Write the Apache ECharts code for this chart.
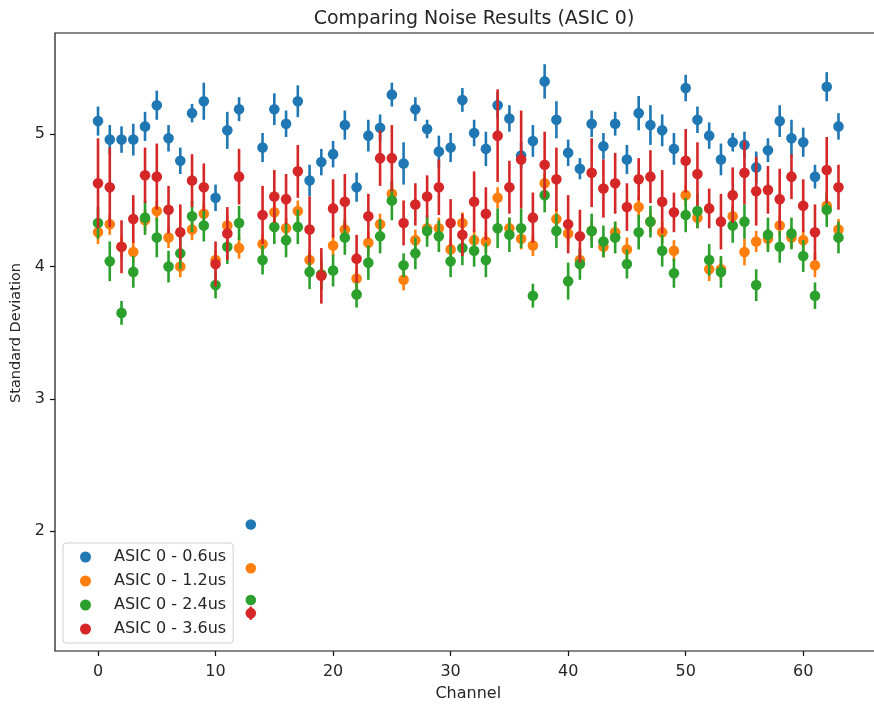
<!DOCTYPE html>
<html>
<head>
<meta charset="utf-8">
<script src="https://cdn.jsdelivr.net/npm/echarts@6/dist/echarts.min.js"></script>
<style>
  html, body { margin: 0; padding: 0; background: #fff; }
  #chart { width: 874px; height: 706px; }
</style>
</head>
<body>
<div id="chart"></div>
<script>
// Noise standard deviation per channel for four shaping times (ASIC 0)
const channels = Array.from({ length: 64 }, (_, i) => i);

const seriesNames = ['ASIC 0 - 0.6us', 'ASIC 0 - 1.2us', 'ASIC 0 - 2.4us', 'ASIC 0 - 3.6us'];

const std06 = [5.10, 4.96, 4.96, 4.96, 5.06, 5.22, 4.97, 4.80, 5.16, 5.25,
  4.52, 5.03, 5.19, 2.05, 4.90, 5.19, 5.08, 5.25, 4.65, 4.79,
  4.85, 5.07, 4.60, 4.99, 5.05, 5.30, 4.78, 5.19, 5.04, 4.87,
  4.90, 5.26, 5.01, 4.89, 5.22, 5.12, 4.84, 4.95, 5.40, 5.11,
  4.86, 4.74, 5.08, 4.91, 5.08, 4.81, 5.16, 5.07, 5.03, 4.89,
  5.35, 5.11, 4.99, 4.81, 4.94, 4.92, 4.75, 4.88, 5.10, 4.97,
  4.94, 4.68, 5.36, 5.06];
const err06 = [0.11, 0.11, 0.10, 0.12, 0.11, 0.11, 0.10, 0.10, 0.07, 0.14,
  0.10, 0.14, 0.09, 0.01, 0.11, 0.12, 0.10, 0.12, 0.12, 0.10,
  0.10, 0.11, 0.11, 0.12, 0.10, 0.09, 0.16, 0.09, 0.07, 0.12,
  0.11, 0.09, 0.10, 0.13, 0.10, 0.10, 0.10, 0.12, 0.13, 0.14,
  0.10, 0.08, 0.10, 0.10, 0.09, 0.11, 0.13, 0.15, 0.12, 0.12,
  0.10, 0.10, 0.10, 0.12, 0.07, 0.10, 0.12, 0.09, 0.12, 0.14,
  0.11, 0.09, 0.11, 0.10];

const std12 = [4.26, 4.32, 4.15, 4.11, 4.35, 4.42, 4.22, 4.00, 4.28, 4.40,
  4.05, 4.31, 4.14, 1.72, 4.17, 4.41, 4.29, 4.42, 4.05, 3.94,
  4.16, 4.28, 3.91, 4.18, 4.32, 4.55, 3.90, 4.20, 4.29, 4.29,
  4.13, 4.33, 4.20, 4.19, 4.52, 4.29, 4.21, 4.16, 4.63, 4.36,
  4.25, 4.05, 4.27, 4.15, 4.26, 4.13, 4.45, 4.34, 4.26, 4.12,
  4.54, 4.37, 3.98, 3.98, 4.38, 4.11, 4.19, 4.21, 4.31, 4.22,
  4.20, 4.01, 4.46, 4.28];
const err12 = [0.09, 0.08, 0.08, 0.08, 0.08, 0.08, 0.08, 0.08, 0.08, 0.08,
  0.08, 0.08, 0.08, 0.01, 0.08, 0.08, 0.08, 0.08, 0.08, 0.08,
  0.08, 0.08, 0.08, 0.08, 0.08, 0.08, 0.08, 0.08, 0.08, 0.08,
  0.08, 0.08, 0.08, 0.08, 0.08, 0.08, 0.08, 0.08, 0.08, 0.08,
  0.08, 0.08, 0.08, 0.08, 0.08, 0.09, 0.08, 0.08, 0.08, 0.08,
  0.08, 0.08, 0.09, 0.08, 0.08, 0.10, 0.08, 0.08, 0.08, 0.08,
  0.08, 0.09, 0.08, 0.08];

const std24 = [4.33, 4.04, 3.65, 3.96, 4.37, 4.22, 4.00, 4.10, 4.38, 4.31,
  3.86, 4.15, 4.33, 1.48, 4.05, 4.30, 4.20, 4.30, 3.96, 3.94,
  3.97, 4.22, 3.79, 4.03, 4.23, 4.50, 4.01, 4.10, 4.27, 4.23,
  4.04, 4.14, 4.12, 4.05, 4.29, 4.24, 4.29, 3.78, 4.54, 4.27,
  3.89, 4.02, 4.27, 4.19, 4.22, 4.02, 4.26, 4.34, 4.12, 3.95,
  4.39, 4.42, 4.05, 3.96, 4.31, 4.34, 3.86, 4.24, 4.15, 4.25,
  4.08, 3.78, 4.43, 4.22];
const err24 = [0.12, 0.15, 0.09, 0.12, 0.13, 0.15, 0.12, 0.12, 0.12, 0.12,
  0.10, 0.13, 0.13, 0.01, 0.11, 0.13, 0.13, 0.13, 0.13, 0.12,
  0.12, 0.13, 0.10, 0.13, 0.13, 0.15, 0.09, 0.12, 0.12, 0.12,
  0.12, 0.13, 0.12, 0.13, 0.15, 0.13, 0.15, 0.09, 0.13, 0.13,
  0.14, 0.12, 0.13, 0.12, 0.12, 0.11, 0.13, 0.12, 0.12, 0.11,
  0.13, 0.13, 0.12, 0.12, 0.13, 0.13, 0.12, 0.13, 0.12, 0.12,
  0.12, 0.10, 0.13, 0.12];

const std36 = [4.63, 4.60, 4.15, 4.36, 4.69, 4.68, 4.43, 4.26, 4.65, 4.60,
  4.02, 4.25, 4.68, 1.38, 4.39, 4.53, 4.51, 4.72, 4.28, 3.93,
  4.44, 4.49, 4.06, 4.38, 4.82, 4.82, 4.33, 4.47, 4.53, 4.60,
  4.33, 4.24, 4.49, 4.40, 4.99, 4.60, 4.81, 4.37, 4.77, 4.66,
  4.32, 4.23, 4.71, 4.59, 4.63, 4.45, 4.66, 4.68, 4.49, 4.41,
  4.80, 4.70, 4.44, 4.34, 4.54, 4.71, 4.57, 4.58, 4.51, 4.68,
  4.46, 4.26, 4.73, 4.60];
const err36 = [0.34, 0.30, 0.20, 0.18, 0.21, 0.25, 0.18, 0.21, 0.20, 0.18,
  0.17, 0.20, 0.21, 0.05, 0.22, 0.20, 0.19, 0.20, 0.25, 0.21,
  0.22, 0.21, 0.18, 0.17, 0.21, 0.25, 0.17, 0.16, 0.16, 0.21,
  0.18, 0.16, 0.23, 0.20, 0.35, 0.20, 0.37, 0.19, 0.25, 0.24,
  0.22, 0.20, 0.26, 0.22, 0.23, 0.18, 0.16, 0.20, 0.24, 0.15,
  0.24, 0.24, 0.15, 0.21, 0.21, 0.24, 0.26, 0.18, 0.23, 0.17,
  0.20, 0.21, 0.25, 0.17];

const yTicks = [2, 3, 4, 5];
const xTicks = [0, 10, 20, 30, 40, 50, 60];

const colors = ['#1f77b4', '#ff7f0e', '#2ca02c', '#d62728'];
const values = [std06, std12, std24, std36];
const errors = [err06, err12, err24, err36];

const FONT = '"DejaVu Sans", "Liberation Sans", sans-serif';
const TEXT = '#262626';

// One custom series per shaping time: vertical error bar with a round marker on top
function makeSeries(idx) {
  const color = colors[idx];
  return {
    name: seriesNames[idx],
    type: 'custom',
    color: color,
    itemStyle: { color: color },
    encode: { x: 0, y: 1 },
    data: channels.map((c, i) => [c, values[idx][i], errors[idx][i]]),
    renderItem: function (params, api) {
      const x = api.value(0), y = api.value(1), e = api.value(2);
      const hi = api.coord([x, y + e]);
      const lo = api.coord([x, y - e]);
      const c = api.coord([x, y]);
      return {
        type: 'group',
        children: [
          { type: 'line', shape: { x1: hi[0], y1: hi[1], x2: lo[0], y2: lo[1] },
            style: { stroke: color, lineWidth: 2.6 } },
          { type: 'circle', shape: { cx: c[0], cy: c[1], r: 5.3 },
            style: { fill: color } }
        ]
      };
    }
  };
}

const chart = echarts.init(document.getElementById('chart'), null, { renderer: 'canvas' });
chart.setOption({
  animation: false,
  backgroundColor: '#ffffff',
  textStyle: { fontFamily: FONT },
  title: {
    text: 'Comparing Noise Results (ASIC 0)',
    left: 469,
    textAlign: 'center',
    top: 5,
    textStyle: { fontFamily: FONT, fontSize: 19, fontWeight: 'normal', color: TEXT }
  },
  grid: {
    left: 55, top: 33, width: 826.5, height: 618,
    outerBoundsMode: 'none',
    containLabel: false,
    show: true, borderColor: '#111', borderWidth: 1.2, backgroundColor: 'transparent'
  },
  legend: {
    orient: 'vertical',
    left: 63, top: 543,
    padding: [5, 7, 5, 17],
    itemGap: 6,
    itemWidth: 11, itemHeight: 11,
    backgroundColor: '#fff',
    borderColor: '#d0d0d0', borderWidth: 1, borderRadius: 3,
    textStyle: { fontFamily: FONT, fontSize: 16, color: TEXT, lineHeight: 18, padding: [0, 0, 0, 18] },
    data: seriesNames.map(n => ({ name: n, icon: 'circle' }))
  },
  xAxis: {
    type: 'value',
    min: -3.66, max: 66.66,
    name: 'Channel',
    nameLocation: 'middle',
    nameGap: 35,
    nameTextStyle: { fontFamily: FONT, fontSize: 16, color: TEXT },
    axisLine: { show: false, onZero: false },
    axisTick: { show: true, length: 5, lineStyle: { color: '#111', width: 1.2 }, customValues: xTicks },
    axisLabel: { fontFamily: FONT, fontSize: 16, color: TEXT, margin: 13, customValues: xTicks },
    splitLine: { show: false }
  },
  yAxis: {
    type: 'value',
    min: 1.094, max: 5.766,
    name: 'Standard Deviation',
    nameLocation: 'middle',
    nameGap: 23,
    nameTextStyle: { fontFamily: FONT, fontSize: 14.5, color: TEXT, padding: [0, 0, 0, 18] },
    axisLine: { show: false, onZero: false },
    axisTick: { show: true, length: 5, lineStyle: { color: '#111', width: 1.2 }, customValues: yTicks },
    axisLabel: { fontFamily: FONT, fontSize: 16, color: TEXT, margin: 10, customValues: yTicks },
    splitLine: { show: false }
  },
  series: [0, 1, 2, 3].map(makeSeries)
});
</script>
</body>
</html>
